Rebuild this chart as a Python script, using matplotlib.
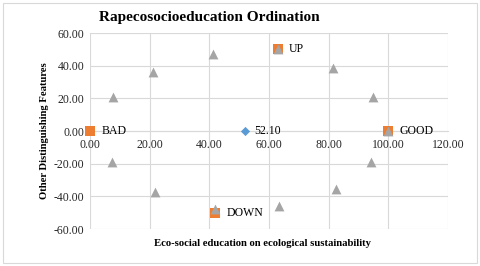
import matplotlib
matplotlib.use("Agg")
import matplotlib.pyplot as plt
from matplotlib.patches import Rectangle

# Data
tri_x = [7.7, 21.2, 41.2, 63.0, 81.6, 95.0, 100.0, 94.3, 82.5, 63.4, 42.0, 21.8, 7.5]
tri_y = [21.0, 36.3, 47.2, 50.0, 38.5, 20.8, 0.0, -19.0, -35.6, -46.0, -48.0, -37.5, -19.0]
sq_labels = ["BAD", "UP", "GOOD", "DOWN"]
sq_x = [0.0, 63.0, 100.0, 42.0]
sq_y = [0.0, 50.0, 0.0, -50.0]
center_x = [52.1]
center_y = [0.0]
center_labels = ["52.10"]
x_ticks = [0, 20, 40, 60, 80, 100, 120]
y_ticks = [-60, -40, -20, 0, 20, 40, 60]

plt.rcParams['font.family'] = ['Liberation Serif', 'DejaVu Serif']

fig = plt.figure(figsize=(4.8, 2.66), dpi=100)
ax = fig.add_axes([90/480, 1-229/266, (448-90)/480, (229-33)/266])

ax.scatter(sq_x, sq_y, marker='s', s=50, color='#ED7D31', zorder=3, linewidths=0, clip_on=False)
ax.scatter(tri_x, tri_y, marker='^', s=50, color='#A5A5A5', zorder=4, linewidths=0, clip_on=False)
ax.scatter(center_x, center_y, marker='D', s=22, color='#5B9BD5', zorder=4, linewidths=0, clip_on=False)

for lx, ly, lab in zip(sq_x, sq_y, sq_labels):
    ax.annotate(lab, (lx, ly), xytext=(8, 0), textcoords='offset points',
                va='center', ha='left', fontsize=8.5, color='#000000', zorder=5)
for lx, ly, lab in zip(center_x, center_y, center_labels):
    ax.annotate(lab, (lx, ly), xytext=(6, 0), textcoords='offset points',
                va='center', ha='left', fontsize=8.5, color='#000000', zorder=5)

ax.set_xlim(0, 120)
ax.set_ylim(-60, 60)
ax.set_xticks(x_ticks)
ax.set_yticks(y_ticks)
ax.set_xticklabels([f"{v:.2f}" for v in x_ticks])
ax.set_yticklabels([f"{v:.2f}" for v in y_ticks])
ax.grid(True, color='#D9D9D9', linewidth=0.8)
ax.set_axisbelow(True)
for s in ['top', 'right', 'left']:
    ax.spines[s].set_visible(False)
ax.spines['bottom'].set_position(('data', 0))
ax.spines['bottom'].set_color('#D9D9D9')
ax.spines['bottom'].set_linewidth(0.8)
ax.tick_params(axis='both', length=0, labelsize=8.5, colors='#262626')
ax.tick_params(axis='x', pad=6)
ax.tick_params(axis='y', pad=4)

fig.text(209/480, 1-18/266, "Rapecosocioeducation Ordination", ha='center', va='center',
         fontsize=11, fontweight='bold')
fig.text(45/480, 1-131/266, "Other Distinguishing Features", ha='center', va='center',
         rotation=90, fontsize=7.7, fontweight='bold')
fig.text(262/480, 1-243/266, "Eco-social education on ecological sustainability", ha='center',
         va='center', fontsize=7.7, fontweight='bold')

fig.patches.append(Rectangle((3/480, 3/266), 474/480, 260/266, transform=fig.transFigure,
                             fill=False, edgecolor='#D9D9D9', linewidth=0.8))

fig.savefig("out.png", dpi=100)
